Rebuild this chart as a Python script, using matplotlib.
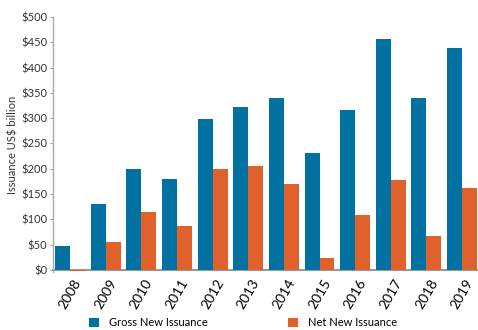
import matplotlib
matplotlib.use("Agg")
import matplotlib.pyplot as plt
import numpy as np

years = ["2008", "2009", "2010", "2011", "2012", "2013", "2014", "2015", "2016", "2017", "2018", "2019"]
gross = [47, 130, 199, 180, 298, 322, 340, 231, 316, 457, 340, 439]
net = [-2, 55, 115, 87, 200, 206, 170, 24, 109, 178, 67, 162]
yticks = [0, 50, 100, 150, 200, 250, 300, 350, 400, 450, 500]
ytick_labels = ["$" + str(v) for v in yticks]

plt.rcParams['font.family'] = ['Lato', 'DejaVu Sans']

fig = plt.figure(figsize=(4.78, 3.30), dpi=100)
ax = fig.add_axes([53/478, 1-272/330, (477-53)/478, (272-17)/330])

x = np.arange(len(years))
w = 0.42
b1 = ax.bar(x - w/2, gross, width=w, color='#0071A0', label='Gross New Issuance', zorder=3)
b2 = ax.bar(x + w/2, net, width=w, color='#E0612B', label='Net New Issuance', zorder=3)

ax.set_xlim(-0.48, len(years) - 1 + 0.42)
ax.set_ylim(-4, 500)
ax.tick_params(axis='x', length=0, pad=5, labelrotation=60)
ax.tick_params(axis='y', length=2, width=0.8, color='#aaaaaa', pad=2)
ax.set_yticks(yticks)
ax.set_yticklabels(ytick_labels, fontsize=8, color='#333333')
ax.set_xticks(x)
ax.set_xticklabels(years, fontsize=8, color='#333333')
plt.setp(ax.get_xticklabels(), rotation=60, ha='right', va='top', rotation_mode='anchor')

for s in ['top', 'right']:
    ax.spines[s].set_visible(False)
ax.spines['left'].set_color('#aaaaaa')
ax.spines['left'].set_linewidth(1.0)
ax.spines['bottom'].set_position(('data', 0))
ax.spines['bottom'].set_color('#999999')
ax.spines['bottom'].set_linewidth(1.5)
ax.spines['bottom'].set_zorder(2)

ax.set_ylabel('Issuance US$ billion', fontsize=8, color='#333333', labelpad=2)

fig.legend(handles=[b1, b2], loc='center', bbox_to_anchor=(0.508, 0.022), ncol=2,
           frameon=False, fontsize=8, handlelength=0.9, handleheight=0.9,
           columnspacing=7.2, handletextpad=0.9)

fig.savefig('out.png', dpi=100)
